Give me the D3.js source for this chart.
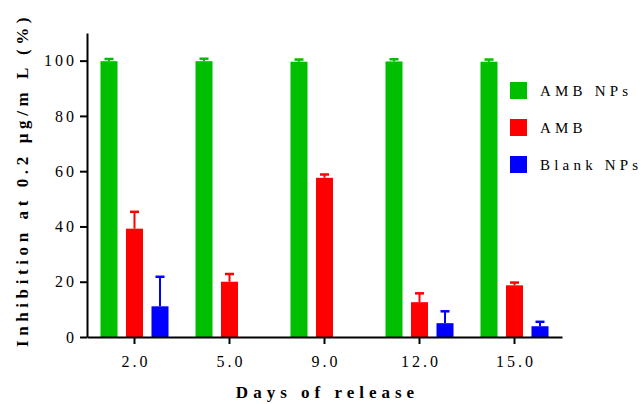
<!DOCTYPE html>
<html>
<head>
<meta charset="utf-8">
<script src="https://cdn.jsdelivr.net/npm/d3@7.9.0/dist/d3.min.js"></script>
<style>
  body { margin: 0; background: #fff; }
  svg text { font-family: "Liberation Serif", Tinos, Times, "Times New Roman", "DejaVu Serif", serif; fill: #000; }
</style>
</head>
<body>
<div id="chart"></div>
<script>
// chart data
const days = ['2.0', '5.0', '9.0', '12.0', '15.0'];
const seriesNames = ['AMB NPs', 'AMB', 'Blank NPs'];
const seriesColors = ['#00bf00', '#ff0000', '#0000ff'];
const ambNPs = [99.8, 99.8, 99.6, 99.7, 99.6];
const ambNPsErr = [0.8, 0.9, 0.8, 0.8, 0.8];
const amb = [39.2, 20.0, 57.6, 12.6, 18.7];
const ambErr = [6.1, 2.8, 1.2, 3.2, 1.0];
const blank = [11.1, null, null, 5.0, 3.9];
const blankErr = [10.7, null, null, 4.3, 1.6];
const yTicks = [0, 20, 40, 60, 80, 100];

const values = [ambNPs, amb, blank];
const errors = [ambNPsErr, ambErr, blankErr];

const serifFont = '"Liberation Serif", Tinos, Times, "Times New Roman", "DejaVu Serif", serif';

const width = 644, height = 404;
const margin = { top: 33, right: 82, bottom: 67, left: 87 };

const svg = d3.select('#chart').append('svg')
    .attr('width', width)
    .attr('height', height)
    .attr('font-family', serifFont);

const x0 = d3.scaleBand()
    .domain(days)
    .range([margin.left, width - margin.right]);

const x1 = d3.scaleBand()
    .domain(seriesNames)
    .range([0, x0.bandwidth()])
    .paddingInner(0.333)
    .paddingOuter(0.529);

const y = d3.scaleLinear()
    .domain([0, 110])
    .range([height - margin.bottom, margin.top]);

// flatten into bar records
const bars = [];
seriesNames.forEach((s, i) => {
    days.forEach((d, j) => {
        if (values[i][j] == null) return;
        bars.push({ day: d, series: s, color: seriesColors[i], value: values[i][j], err: errors[i][j] });
    });
});

const g = svg.append('g');

// error bars (upper only), drawn under bars
const eb = g.selectAll('g.err').data(bars).join('g').attr('class', 'err');
eb.append('line')
    .attr('x1', d => x0(d.day) + x1(d.series) + x1.bandwidth() / 2)
    .attr('x2', d => x0(d.day) + x1(d.series) + x1.bandwidth() / 2)
    .attr('y1', d => y(d.value))
    .attr('y2', d => y(d.value + d.err))
    .attr('stroke', d => d.color)
    .attr('stroke-width', 2);
eb.append('line')
    .attr('x1', d => x0(d.day) + x1(d.series) + x1.bandwidth() / 2 - 4.5)
    .attr('x2', d => x0(d.day) + x1(d.series) + x1.bandwidth() / 2 + 4.5)
    .attr('y1', d => y(d.value + d.err))
    .attr('y2', d => y(d.value + d.err))
    .attr('stroke', d => d.color)
    .attr('stroke-width', 2.5);

g.selectAll('rect.bar').data(bars).join('rect')
    .attr('class', 'bar')
    .attr('x', d => x0(d.day) + x1(d.series))
    .attr('width', x1.bandwidth())
    .attr('y', d => y(d.value))
    .attr('height', d => y(0) - y(d.value))
    .attr('fill', d => d.color);

// axes
const yAxis = svg.append('g')
    .attr('transform', `translate(${margin.left},0)`)
    .call(d3.axisLeft(y).tickValues(yTicks).tickSize(7).tickSizeOuter(0).tickPadding(3));

const xAxis = svg.append('g')
    .attr('transform', `translate(0,${height - margin.bottom})`)
    .call(d3.axisBottom(x0).tickSize(7).tickSizeOuter(0).tickPadding(12));

[xAxis, yAxis].forEach(ax => {
    ax.attr('font-family', serifFont).attr('font-size', 16);
    ax.select('.domain').attr('stroke', '#000').attr('stroke-width', 2);
    ax.selectAll('.tick line').attr('stroke', '#000').attr('stroke-width', 2);
    ax.selectAll('.tick text').style('letter-spacing', '3px');
});
xAxis.selectAll('.tick text').attr('dx', '1.5px');

// axis titles
svg.append('text')
    .attr('x', (margin.left + width - margin.right) / 2 + 3)
    .attr('y', 398)
    .attr('text-anchor', 'middle')
    .style('font-size', '17px')
    .style('font-weight', 'bold')
    .style('letter-spacing', '5px')
    .text('Days of release');

svg.append('text')
    .attr('transform', `translate(28,${(margin.top + height - margin.bottom) / 2 - 5}) rotate(-90)`)
    .attr('text-anchor', 'middle')
    .style('font-size', '17px')
    .style('font-weight', 'bold')
    .style('letter-spacing', '4.6px')
    .text('Inhibition at 0.2 µg/m L (%)');

// legend
const legend = svg.append('g').attr('transform', 'translate(510,82)');
const items = legend.selectAll('g').data(seriesNames).join('g')
    .attr('transform', (d, i) => `translate(0,${i * 37})`);
items.append('rect')
    .attr('width', 17).attr('height', 17)
    .attr('fill', (d, i) => seriesColors[i]);
items.append('text')
    .attr('x', 30).attr('y', 14)
    .style('font-size', '15px')
    .style('letter-spacing', '4.2px')
    .text(d => d);
</script>
</body>
</html>
